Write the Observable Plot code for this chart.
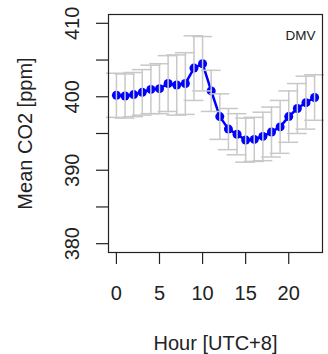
<!DOCTYPE html>
<html>
<head>
<meta charset="utf-8">
<script src="https://cdn.jsdelivr.net/npm/d3@7"></script>
<script src="https://cdn.jsdelivr.net/npm/@observablehq/plot@0.6"></script>
<style>
  html, body { margin: 0; padding: 0; background: #fff; }
  svg { font-family: "Liberation Sans", Arial, sans-serif; }
</style>
</head>
<body>
<div id="chart"></div>
<script>
const hours = [0,1,2,3,4,5,6,7,8,9,10,11,12,13,14,15,16,17,18,19,20,21,22,23];
const meanCO2 = [400.2,400.1,400.3,400.6,401.0,401.1,401.8,401.6,401.8,403.9,404.5,400.8,397.3,395.6,394.9,394.1,394.2,394.6,395.2,395.9,397.3,398.4,399.2,399.9];
const sdCO2 = [3.0,3.0,3.0,3.1,3.3,3.4,3.8,4.1,4.2,4.4,3.7,2.8,3.1,2.8,2.8,3.0,3.0,3.3,3.4,3.6,3.5,3.4,3.6,3.1];
const xTicks = [0,5,10,15,20];
const yTicks = [380,385,390,395,400,405,410];
const yLabels = [380,390,400,410];
const siteLabel = "DMV";
const xTitle = "Hour [UTC+8]";
const yTitle = "Mean CO2 [ppm]";

const data = hours.map((h, i) => ({h, m: meanCO2[i], lo: meanCO2[i] - sdCO2[i], hi: meanCO2[i] + sdCO2[i]}));
const capHalf = 1.15;
const ink = "#222";
const barColor = "#c8c8c8";

const chart = Plot.plot({
  width: 328,
  height: 354,
  marginLeft: 108,
  marginRight: 6,
  marginTop: 14,
  marginBottom: 102,
  style: {fontFamily: "Liberation Sans, Arial, sans-serif", background: "#fff"},
  x: {domain: [-0.92, 23.92], label: null},
  y: {domain: [378.8, 411.2], label: null},
  marks: [
    Plot.line(data, {x: "h", y: "m", stroke: "#0000ff", strokeWidth: 2.5}),
    Plot.dot(data, {x: "h", y: "m", r: 4.5, fill: "#0000ff"}),
    Plot.ruleX(data, {x: "h", y1: "lo", y2: "hi", stroke: barColor, strokeWidth: 1.5}),
    Plot.ruleY(data, {y: "hi", x1: d => d.h - capHalf, x2: d => d.h + capHalf, stroke: barColor, strokeWidth: 1.5}),
    Plot.ruleY(data, {y: "lo", x1: d => d.h - capHalf, x2: d => d.h + capHalf, stroke: barColor, strokeWidth: 1.5}),
    Plot.frame({stroke: ink, strokeWidth: 1.2}),
    Plot.axisX({ticks: xTicks, tickSize: 12, tickFormat: () => "", label: null, stroke: ink, strokeWidth: 1.2}),
    Plot.axisY({ticks: yTicks, tickSize: 12, tickFormat: () => "", label: null, stroke: ink, strokeWidth: 1.2}),
    Plot.text(xTicks, {x: d => d, text: d => String(d), frameAnchor: "bottom", dy: 40.6, textAnchor: "middle", lineAnchor: "middle", fontSize: 20, fill: ink}),
    Plot.text(yLabels, {y: d => d, text: d => String(d), frameAnchor: "left", dx: -36.4, rotate: -90, textAnchor: "middle", lineAnchor: "middle", fontSize: 20, fill: ink}),
    Plot.text([xTitle], {text: d => d, frameAnchor: "bottom", dy: 90.6, textAnchor: "middle", lineAnchor: "middle", fontSize: 20, fill: ink}),
    Plot.text([yTitle], {text: d => d, frameAnchor: "left", dx: -82.7, rotate: -90, textAnchor: "middle", lineAnchor: "middle", fontSize: 20, fill: ink}),
    Plot.text([siteLabel], {text: d => d, frameAnchor: "top-right", dx: -7, dy: 21, textAnchor: "end", lineAnchor: "middle", fontSize: 13.5, fill: ink})
  ]
});
document.getElementById("chart").appendChild(chart);
</script>
</body>
</html>
